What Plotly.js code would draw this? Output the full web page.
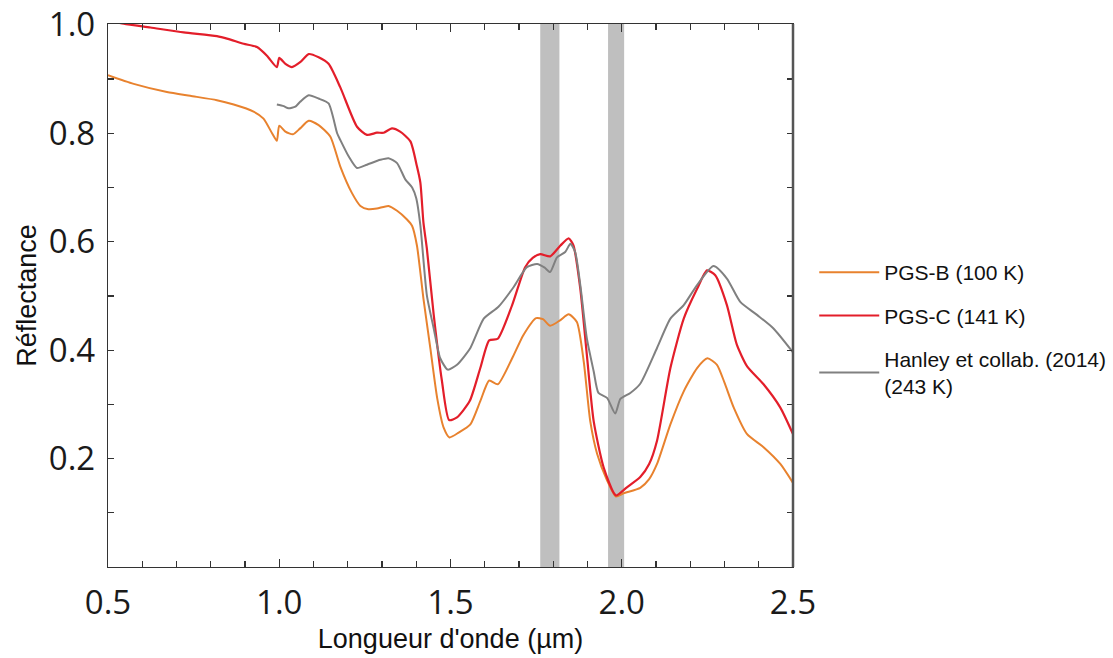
<!DOCTYPE html>
<html>
<head>
<meta charset="utf-8">
<script src="https://cdn.plot.ly/plotly-3.0.1.min.js"></script>
<style>html,body{margin:0;padding:0;background:#fff;}#chart{width:1113px;height:658px;}</style>
</head>
<body>
<div id="chart"></div>
<script>
// Series names
const seriesNames = ["PGS-B (100 K)", "PGS-C (141 K)", "Hanley et collab. (2014)<br>(243 K)"];

// PGS-B (100 K)
const wlB = [0.500,0.575,0.672,0.740,0.818,0.867,0.925,0.954,0.979,0.993,1.000,1.018,1.040,1.061,1.086,1.115,1.149,1.178,1.212,1.237,1.260,1.285,1.319,1.344,1.373,1.388,1.402,1.421,1.441,1.461,1.480,1.497,1.524,1.558,1.587,1.613,1.638,1.680,1.713,1.750,1.770,1.791,1.820,1.845,1.869,1.889,1.908,1.928,1.957,1.983,2.005,2.054,2.080,2.103,2.142,2.181,2.220,2.250,2.278,2.300,2.327,2.366,2.414,2.463,2.500];
const refB = [0.907,0.891,0.876,0.869,0.861,0.853,0.840,0.827,0.800,0.786,0.814,0.803,0.798,0.809,0.823,0.815,0.794,0.739,0.690,0.666,0.660,0.661,0.666,0.657,0.641,0.629,0.593,0.495,0.404,0.312,0.257,0.239,0.248,0.263,0.306,0.344,0.337,0.385,0.428,0.459,0.457,0.445,0.455,0.466,0.452,0.379,0.269,0.209,0.160,0.130,0.136,0.146,0.162,0.190,0.263,0.324,0.367,0.385,0.373,0.340,0.294,0.245,0.221,0.190,0.155];

// PGS-C (141 K)
const wlC = [0.500,0.546,0.624,0.721,0.818,0.850,0.896,0.935,0.964,0.993,1.000,1.018,1.037,1.061,1.086,1.115,1.144,1.178,1.227,1.256,1.285,1.305,1.329,1.353,1.383,1.402,1.412,1.421,1.431,1.451,1.475,1.496,1.519,1.556,1.587,1.613,1.638,1.680,1.718,1.740,1.762,1.791,1.821,1.845,1.859,1.879,1.898,1.918,1.947,1.983,2.015,2.054,2.080,2.103,2.142,2.181,2.220,2.249,2.273,2.307,2.336,2.366,2.414,2.463,2.500];
const refC = [1.008,1.002,0.995,0.986,0.979,0.974,0.965,0.959,0.943,0.922,0.939,0.928,0.922,0.931,0.946,0.940,0.928,0.885,0.812,0.797,0.801,0.801,0.809,0.803,0.785,0.739,0.709,0.635,0.587,0.465,0.343,0.271,0.276,0.306,0.367,0.418,0.421,0.483,0.553,0.570,0.577,0.573,0.593,0.606,0.593,0.513,0.392,0.269,0.184,0.132,0.147,0.166,0.190,0.233,0.367,0.458,0.513,0.547,0.538,0.483,0.410,0.370,0.337,0.294,0.245];

// Hanley et collab. (2014) (243 K)
const wlH = [0.993,1.013,1.027,1.047,1.061,1.086,1.115,1.144,1.169,1.178,1.203,1.227,1.256,1.295,1.319,1.344,1.368,1.388,1.400,1.412,1.431,1.451,1.470,1.492,1.519,1.558,1.597,1.640,1.684,1.723,1.753,1.775,1.791,1.811,1.835,1.850,1.864,1.879,1.898,1.918,1.932,1.957,1.981,1.996,2.025,2.054,2.103,2.142,2.181,2.220,2.268,2.307,2.346,2.395,2.443,2.500];
const refH = [0.853,0.850,0.846,0.849,0.858,0.870,0.864,0.855,0.800,0.788,0.757,0.736,0.742,0.751,0.754,0.745,0.715,0.700,0.680,0.630,0.501,0.440,0.385,0.364,0.373,0.404,0.458,0.480,0.516,0.553,0.559,0.552,0.544,0.571,0.581,0.596,0.581,0.520,0.422,0.361,0.321,0.312,0.283,0.310,0.321,0.338,0.404,0.458,0.483,0.520,0.555,0.532,0.489,0.465,0.440,0.396];

// Grey absorption bands (µm)
const bandStart = [1.762, 1.960];
const bandEnd = [1.818, 2.007];

// Tick labels
const xTickVals = [0.5, 1.0, 1.5, 2.0, 2.5];
const xTickText = ["0.5", "1.0", "1.5", "2.0", "2.5"];
const yTickVals = [0.2, 0.4, 0.6, 0.8, 1.0];
const yTickText = ["0.2", "0.4", "0.6", "0.8", "1.0"];

const colors = ["#e8822e", "#e31e2a", "#808080"];

const lineShape = {shape: "spline", smoothing: 0.6};
const traces = [
  {x: wlB, y: refB, name: seriesNames[0], legendgroup: "b", mode: "lines", line: Object.assign({color: colors[0], width: 2}, lineShape)},
  {x: wlC, y: refC, name: seriesNames[1], legendgroup: "c", mode: "lines", line: Object.assign({color: colors[1], width: 2.2}, lineShape)},
  {x: wlH, y: refH, name: seriesNames[2], legendgroup: "h", mode: "lines", line: Object.assign({color: colors[2], width: 2}, lineShape)}
];

const shapes = bandStart.map((s, i) => ({
  type: "rect", xref: "x", yref: "paper", x0: s, x1: bandEnd[i], y0: 0, y1: 1,
  fillcolor: "#bfbfbf", line: {width: 0}, layer: "below"
}));
shapes.push({type: "line", xref: "paper", yref: "paper", x0: 1, x1: 1, y0: 0, y1: 1, line: {color: "#555", width: 2.5}});

const tickFont = {family: "Open Sans, Noto Sans, sans-serif", size: 33, color: "#1a1a1a"};
const titleFont = {family: "Liberation Sans, Arial, sans-serif", size: 27, color: "#111"};

const layout = {
  width: 1113, height: 658,
  margin: {l: 108, r: 320, t: 24, b: 91, autoexpand: false},
  paper_bgcolor: "#fff", plot_bgcolor: "#fff",
  showlegend: true,
  legend: {
    x: 1.031, y: 0.58, xanchor: "left", yanchor: "top",
    font: {family: "Liberation Sans, Arial, sans-serif", size: 21, color: "#111"},
    itemwidth: 60, tracegroupgap: 13, traceorder: "grouped", bgcolor: "rgba(0,0,0,0)"
  },
  xaxis: {
    range: [0.5, 2.5], showgrid: false, zeroline: false,
    showline: true, linecolor: "#333", linewidth: 1.2, mirror: "ticks",
    ticks: "inside", ticklen: 8, tickwidth: 1.2, tickcolor: "#333",
    tickvals: xTickVals, ticktext: xTickText, tickfont: tickFont, ticklabelstandoff: 6,
    ticklabeloverflow: "allow",
    minor: {dtick: 0.1, ticks: "inside", ticklen: 6, tickwidth: 1.2, tickcolor: "#333", showgrid: false},
    title: {text: "Longueur d'onde (µm)", font: titleFont, standoff: 4}
  },
  yaxis: {
    range: [0, 1.0015], showgrid: false, zeroline: false,
    showline: true, linecolor: "#333", linewidth: 1.2, mirror: "ticks",
    ticks: "inside", ticklen: 6, tickwidth: 1.2, tickcolor: "#333",
    tickvals: yTickVals, ticktext: yTickText, tickfont: tickFont, ticklabelstandoff: 5,
    ticklabeloverflow: "allow",
    minor: {dtick: 0.1, ticks: "inside", ticklen: 6, tickwidth: 1.2, tickcolor: "#333", showgrid: false},
    title: {text: "Réflectance", font: titleFont, standoff: 4}
  },
  shapes: shapes
};

Plotly.newPlot("chart", traces, layout, {displayModeBar: false, staticPlot: true});
</script>
</body>
</html>
